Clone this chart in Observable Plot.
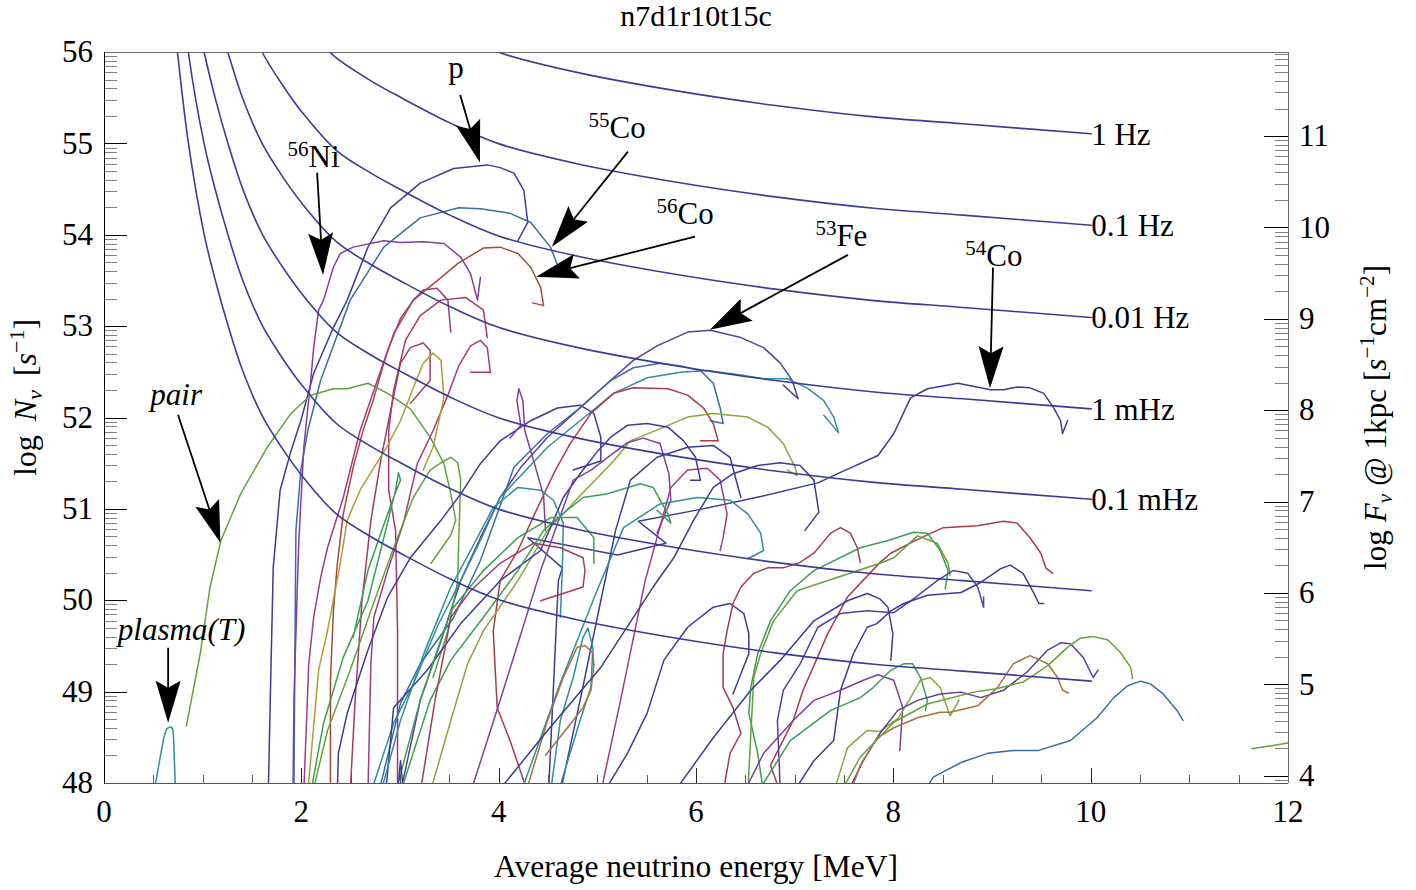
<!DOCTYPE html>
<html><head><meta charset="utf-8">
<script src="https://cdn.jsdelivr.net/npm/d3@7"></script>
<script src="https://cdn.jsdelivr.net/npm/@observablehq/plot@0.6"></script>
<style>html,body{margin:0;padding:0;background:#fff}</style>
</head><body><div id="chart"></div>
<script>
const FONT = "'Liberation Serif','Times New Roman',serif";
const FS = 31;

// ---------- axes ----------
const xDomain = [0, 12];
const yDomain = [48, 56];
const xMajorTicks = [0, 2, 4, 6, 8, 10, 12];
const xMinorTicks = [0.5, 1, 1.5, 2.5, 3, 3.5, 4.5, 5, 5.5, 6.5, 7, 7.5, 8.5, 9, 9.5, 10.5, 11, 11.5];
const yMajorTicks = [48, 49, 50, 51, 52, 53, 54, 55, 56];
const fluxMajorTicks = [4, 5, 6, 7, 8, 9, 10, 11];
const fluxOffset = 44.08; // log(4 pi (1 kpc)^2)

// ---------- iso-rate curves ----------
const isoLabels = ["1 Hz", "0.1 Hz", "0.01 Hz", "1 mHz", "0.1 mHz", "", ""];
const isoEndN = [55.11, 54.11, 53.10, 52.10, 51.11, 50.11, 49.12];
const iso1Hz = [[3.5,56.23],[4.0,56.0],[4.8,55.78],[5.8,55.58],[6.8,55.42],[7.8,55.295],[8.7,55.22],[10,55.11]];
const iso01Hz = [[2.2,56.1],[2.35,55.94],[2.7,55.69],[3.0,55.51],[3.5,55.23],[4.0,55.0],[4.8,54.78],[5.8,54.58],[6.8,54.42],[7.8,54.295],[8.7,54.22],[10,54.11]];
const iso001Hz = [[1.5,56.25],[1.6,56.0],[1.8,55.65],[2.0,55.35],[2.35,54.93],[2.7,54.68],[3.0,54.5],[3.5,54.22],[4.0,53.99],[4.8,53.77],[5.8,53.57],[6.8,53.41],[7.8,53.285],[8.7,53.21],[10,53.1]];
const iso1mHz = [[1.2,56.15],[1.25,56.0],[1.4,55.5],[1.6,55.0],[1.8,54.65],[2.0,54.35],[2.35,53.93],[2.7,53.68],[3.0,53.5],[3.5,53.22],[4.0,52.99],[4.8,52.77],[5.8,52.57],[6.8,52.41],[7.8,52.285],[8.7,52.21],[10,52.1]];
const iso01mHz = [[0.98,56.15],[1.01,56.0],[1.125,55.49],[1.25,55.01],[1.4,54.51],[1.6,54.01],[1.8,53.66],[2.0,53.36],[2.35,52.94],[2.7,52.69],[3.0,52.51],[3.5,52.23],[4.0,52.0],[4.8,51.78],[5.8,51.58],[6.8,51.42],[7.8,51.295],[8.7,51.22],[10,51.11]];
const iso001mHz = [[0.83,56.2],[0.85,56.0],[1.01,55.0],[1.125,54.49],[1.25,54.01],[1.4,53.51],[1.6,53.01],[1.8,52.66],[2.0,52.36],[2.35,51.94],[2.7,51.69],[3.0,51.51],[3.5,51.23],[4.0,51.0],[4.8,50.78],[5.8,50.58],[6.8,50.42],[7.8,50.295],[8.7,50.22],[10,50.11]];
const iso0001mHz = [[0.72,56.2],[0.74,56.0],[0.85,55.01],[1.01,54.01],[1.125,53.5],[1.25,53.02],[1.4,52.52],[1.6,52.02],[1.8,51.67],[2.0,51.37],[2.35,50.95],[2.7,50.7],[3.0,50.52],[3.5,50.24],[4.0,50.01],[4.8,49.79],[5.8,49.59],[6.8,49.43],[7.8,49.305],[8.7,49.23],[10,49.12]];
const isoCurves = [iso1Hz, iso01Hz, iso001Hz, iso1mHz, iso01mHz, iso001mHz, iso0001mHz];

// ---------- spectra (E [MeV], log N) ----------
const pSpec = [[1.66,47.9],[1.68,48.91],[1.71,50.36],[1.78,51.21],[1.89,51.64],[1.99,51.97],[2.12,52.49],[2.32,52.99],[2.46,53.29],[2.67,53.87],[2.90,54.30],[3.20,54.57],[3.54,54.73],[3.88,54.77],[4.01,54.74],[4.15,54.68],[4.25,54.49],[4.29,54.14],[4.19,53.94]];
const co55 = [[1.92,47.9],[1.93,49.46],[1.94,50.77],[1.99,51.43],[2.06,51.86],[2.19,52.41],[2.49,53.29],[2.83,53.87],[3.20,54.19],[3.59,54.30],[3.81,54.29],[4.11,54.24],[4.32,54.14],[4.52,53.87],[4.60,53.65]];
const ni56 = [[1.91,47.9],[1.92,48.91],[1.95,50.0],[1.97,50.66],[2.02,51.68],[2.09,52.41],[2.12,52.77],[2.17,53.18],[2.22,53.29],[2.32,53.65],[2.39,53.80],[2.52,53.87],[2.83,53.94],[3.0,53.92],[3.23,53.93],[3.44,53.91],[3.61,53.76],[3.71,53.58],[3.78,53.29],[3.81,53.54]];
const co56 = [[2.29,47.9],[2.29,49.13],[2.32,49.89],[2.36,50.41],[2.42,50.95],[2.52,51.46],[2.62,51.86],[2.73,52.22],[2.83,52.60],[2.93,52.92],[3.13,53.29],[3.37,53.50],[3.58,53.69],[3.84,53.86],[4.01,53.87],[4.19,53.80],[4.32,53.65],[4.42,53.43],[4.45,53.23],[4.34,53.26]];
const fe53 = [[3.0,47.9],[3.20,48.91],[3.41,49.56],[3.61,50.22],[3.81,50.69],[4.01,51.13],[4.22,51.46],[4.49,51.79],[4.90,52.19],[5.16,52.44],[5.36,52.63],[5.60,52.79],[5.91,52.94],[6.14,52.96],[6.45,52.88],[6.68,52.77],[6.85,52.60],[6.97,52.41],[7.03,52.21],[6.88,52.36]];
const co54 = [[4.50,47.9],[4.55,49.05],[4.60,50.22],[4.64,50.36],[4.29,50.69],[5.20,50.50],[5.69,50.63],[5.41,50.87],[6.04,51.0],[6.65,51.14],[7.23,51.29],[7.51,51.43],[7.84,51.59],[8.0,51.83],[8.17,52.22],[8.34,52.32],[8.65,52.38],[8.98,52.31],[9.11,52.31],[9.25,52.34],[9.38,52.33],[9.52,52.27],[9.62,52.11],[9.69,51.97],[9.71,51.83],[9.76,51.97]];
const pairSpec = [[0.83,48.63],[0.97,49.42],[1.07,50.15],[1.18,50.66],[1.38,51.17],[1.65,51.68],[1.89,52.05],[2.09,52.25],[2.32,52.32],[2.46,52.32],[2.67,52.38],[2.87,52.27],[3.10,52.10],[3.30,51.79],[3.44,51.50],[3.51,51.17],[3.56,50.88],[3.51,50.72],[3.31,50.41]];
const plasmaSpec = [[0.50,47.9],[0.60,48.50],[0.63,48.60],[0.67,48.62],[0.69,48.60],[0.70,48.50],[0.72,47.9]];
const edgeSpec = [[11.63,48.38],[12.04,48.45]];
const m1 = [[2.02,47.9],[2.07,49.31],[2.12,49.82],[2.19,50.25],[2.26,50.58],[2.42,51.13],[2.59,51.86],[2.73,52.30],[2.87,52.74],[3.0,53.09],[3.13,53.29],[3.23,53.40],[3.37,53.42],[3.48,53.29],[3.51,52.94]];
const m2 = [[2.97,47.9],[2.97,49.67],[2.95,50.77],[2.88,51.21],[2.88,51.86],[2.93,52.30],[3.05,52.85],[3.20,53.12],[3.41,53.29],[3.66,53.32],[3.84,53.18],[3.88,52.88]];
const m3 = [[2.67,47.9],[2.70,49.31],[2.73,49.82],[2.87,50.33],[3.03,50.85],[3.17,51.50],[3.33,51.86],[3.48,52.25],[3.59,52.57],[3.71,52.79],[3.81,52.85],[3.88,52.77],[3.91,52.50],[3.71,52.50]];
const mb = [[2.49,47.9],[2.54,48.91],[2.61,50.0],[2.70,50.88],[2.80,51.54],[2.90,52.08],[3.0,52.60],[3.10,52.77],[3.23,52.82],[3.30,52.74],[3.30,52.41],[3.10,52.16]];
const olive1 = [[2.06,47.9],[2.17,49.24],[2.26,49.67],[2.39,50.41],[2.46,50.88],[2.59,51.21],[2.87,51.70],[3.0,51.97],[3.13,52.33],[3.23,52.60],[3.33,52.71],[3.41,52.63],[3.44,52.22],[3.33,51.68],[3.23,51.43]];
const g1 = [[2.09,47.9],[2.22,48.66],[2.42,49.38],[2.67,50.0],[2.85,50.77],[2.95,51.21],[2.98,51.40],[3.0,51.32],[2.93,51.13],[2.80,50.74],[2.67,50.33],[2.52,49.60]];
const g2 = [[2.11,47.9],[2.26,48.58],[2.49,49.24],[2.70,49.89],[2.93,50.58],[3.13,51.13],[3.30,51.43],[3.41,51.51],[3.51,51.57],[3.58,51.51],[3.61,51.32],[3.59,50.66],[3.58,50.22],[3.48,49.67],[3.33,49.16]];
const n1 = [[2.36,47.9],[2.37,48.33],[2.46,48.77],[2.67,49.46],[2.87,50.04],[3.10,50.47],[3.41,50.88],[3.61,51.17],[3.81,51.50],[4.01,51.75],[4.32,51.97],[4.59,52.11],[4.82,52.14],[4.96,52.05],[5.03,51.79],[5.03,51.53],[4.75,51.43]];
const p5 = [[4.11,51.78],[4.22,51.92],[4.18,52.19],[4.20,52.32],[4.24,52.19],[4.26,51.86],[4.35,51.53],[4.45,51.15],[4.47,50.77]];
const t1 = [[2.70,47.9],[2.93,48.66],[3.13,49.09],[3.37,49.71],[3.61,50.22],[3.81,50.66],[4.01,51.13],[4.49,51.68],[4.82,51.97],[5.16,52.27],[5.50,52.44],[5.84,52.50],[6.11,52.52],[6.45,52.47],[6.68,52.43],[6.92,52.43],[7.12,52.33],[7.29,52.19],[7.39,52.01],[7.44,51.84],[7.29,52.03]];
const sb1 = [[2.78,47.9],[3.0,48.88],[3.20,49.31],[3.54,49.82],[3.81,50.44],[4.15,51.46],[4.49,51.83],[4.82,52.11],[5.13,52.41],[5.36,52.55],[5.63,52.60],[5.84,52.57],[6.04,52.52],[6.17,52.38],[6.24,52.11],[6.27,51.94],[6.14,51.97]];
const r3 = [[4.29,47.9],[4.11,48.47],[3.98,48.83],[3.94,49.67],[4.01,50.22],[4.19,50.55],[4.39,51.02],[4.57,51.43],[4.72,51.72],[4.93,52.05],[5.16,52.27],[5.36,52.33],[5.71,52.32],[5.91,52.25],[6.07,52.11],[6.17,51.94],[6.22,51.75],[6.04,51.75]];
const l1 = [[3.30,47.9],[3.51,48.69],[3.68,49.31],[3.84,49.67],[4.19,50.22],[4.49,50.77],[4.82,51.15],[5.16,51.53],[5.33,51.75],[5.67,51.90],[5.91,52.01],[6.17,52.05],[6.52,52.01],[6.72,51.90],[6.88,51.72],[7.0,51.46],[7.02,51.37],[6.92,51.43]];
const n2 = [[2.85,47.9],[2.93,48.83],[3.27,49.24],[3.61,49.75],[4.01,50.22],[4.42,50.55],[4.65,51.13],[4.82,51.39],[5.0,51.64],[5.13,51.79],[5.30,51.92],[5.50,51.94],[5.71,51.90],[5.87,51.75],[5.99,51.57],[6.04,51.32],[5.94,51.32]];
const p6 = [[3.71,47.9],[4.01,48.91],[4.42,50.33],[4.75,51.32],[4.93,51.43],[5.10,51.57],[5.30,51.73],[5.46,51.78],[5.63,51.72],[5.72,51.39],[5.74,51.10],[5.60,50.74]];
const n3 = [[4.62,47.9],[4.82,48.91],[5.03,50.0],[5.18,50.77],[5.33,51.32],[5.60,51.57],[5.91,51.68],[6.17,51.70],[6.34,51.57],[6.45,51.13]];
const p7 = [[5.03,47.9],[5.23,48.91],[5.48,50.22],[5.74,51.24],[5.91,51.43],[6.11,51.45],[6.24,51.32],[6.31,50.95],[6.27,50.69],[6.24,50.55]];
const t2 = [[4.22,47.9],[4.62,49.10],[4.98,50.08],[5.26,50.80],[5.63,51.06],[6.01,51.13],[6.34,51.10],[6.52,50.95],[6.65,50.74],[6.68,50.55],[6.52,50.46]];
const g3 = [[3.0,47.9],[3.30,48.91],[3.51,49.35],[3.84,49.82],[4.19,50.33],[4.45,50.77],[4.69,50.99],[4.85,51.13],[5.10,51.17],[5.43,51.28],[5.56,51.24],[5.71,50.95],[5.74,50.85],[5.60,50.99]];
const t3 = [[2.80,47.9],[3.0,48.69],[3.25,49.46],[3.51,50.15],[3.71,50.55],[3.94,51.02],[4.19,51.24],[4.42,51.21],[4.55,51.10],[4.65,50.85],[4.64,50.33],[4.62,49.82]];
const g4 = [[2.95,47.9],[3.20,48.91],[3.51,49.89],[3.84,50.33],[4.19,50.69],[4.39,50.82],[4.52,50.91],[4.79,50.91],[4.96,50.69],[4.96,50.41]];
const r4 = [[3.20,47.9],[3.35,48.91],[3.51,49.82],[3.71,50.11],[4.01,50.41],[4.35,50.63],[4.62,50.58],[4.85,50.47],[4.87,50.33],[4.85,50.15],[4.42,50.0]];
const tp = [[4.52,47.9],[4.62,48.69],[4.75,49.16],[4.85,49.60],[4.90,49.70],[4.95,49.49],[4.93,49.05],[4.82,48.69],[4.62,47.98]];
const bl = [[4.27,47.9],[4.49,48.69],[4.65,49.16],[4.79,49.49],[4.87,49.51],[4.95,49.43],[4.96,49.29],[4.93,49.02],[4.85,48.83],[4.67,48.58],[4.47,48.31]];
const n4 = [[5.06,47.9],[5.30,48.33],[5.50,48.77],[5.67,49.35],[5.91,49.71],[6.17,49.93],[6.34,49.97],[6.48,49.86],[6.53,49.64],[6.53,49.42],[6.37,48.98]];
const n5 = [[3.98,47.9],[4.49,48.58],[5.03,49.27],[5.56,50.15],[5.77,50.47],[5.97,50.88],[6.17,51.24],[6.37,51.39],[6.62,51.48],[6.85,51.51],[7.05,51.48],[7.19,51.32],[7.24,50.97],[7.10,50.77]];
const r5 = [[6.27,47.9],[6.34,48.33],[6.45,48.55],[6.37,48.83],[6.27,49.05],[6.27,49.42],[6.31,49.67],[6.37,49.97],[6.45,50.15],[6.58,50.30],[6.72,50.36],[6.88,50.36],[7.05,50.42],[7.19,50.52],[7.36,50.74],[7.46,50.80],[7.56,50.74],[7.63,50.58],[7.66,50.42]];
const r1 = [[6.85,47.9],[6.75,48.20],[6.98,48.69],[7.08,49.02],[7.19,49.29],[7.33,49.64],[7.53,50.04],[7.86,50.42],[7.97,50.52],[8.20,50.65],[8.50,50.80],[8.85,50.82],[9.11,50.87],[9.25,50.85],[9.38,50.69],[9.49,50.52],[9.54,50.36],[9.61,50.30]];
const gr1 = [[6.68,47.9],[6.62,48.33],[6.53,48.77],[6.55,49.05],[6.62,49.42],[6.75,49.78],[6.95,50.11],[7.19,50.33],[7.66,50.58],[7.94,50.66],[8.20,50.75],[8.34,50.74],[8.47,50.55],[8.55,50.33],[8.52,50.13]];
const gr2 = [[6.52,47.9],[6.58,49.16],[6.65,49.42],[6.78,49.78],[7.02,50.11],[7.86,50.41],[8.0,50.47],[8.24,50.71],[8.44,50.63],[8.55,50.41],[8.57,50.28]];
const nr1 = [[5.77,47.9],[6.17,48.50],[6.55,49.02],[6.85,49.35],[7.19,49.78],[7.53,50.0],[7.73,50.08],[7.86,50.02],[7.94,49.93],[7.99,49.64],[7.97,49.35]];
const ir1 = [[6.85,47.9],[6.82,48.69],[6.88,49.02],[7.05,49.31],[7.23,49.71],[7.46,49.86],[7.73,49.89],[8.0,49.87],[8.20,50.02],[8.44,50.22],[8.60,50.33],[8.75,50.30],[8.85,50.15],[8.91,49.93],[8.91,50.04]];
const nr2 = [[6.98,47.9],[7.19,48.25],[7.39,48.47],[7.46,49.02],[7.59,49.42],[7.73,49.71],[7.83,49.75],[7.97,49.89],[8.10,49.97],[8.34,50.06],[8.68,50.09],[8.88,50.20],[9.08,50.35],[9.18,50.39],[9.31,50.30],[9.42,50.08],[9.47,49.97],[9.52,49.97]];
const pr1 = [[6.48,47.9],[6.68,48.33],[6.98,48.69],[7.19,48.91],[7.46,49.02],[7.69,49.13],[7.84,49.19],[8.0,49.13],[8.09,48.83],[8.06,48.36]];
const gr3 = [[6.62,47.9],[6.95,48.47],[7.36,48.80],[7.66,48.94],[7.79,49.05],[7.97,49.24],[8.10,49.31],[8.19,49.31],[8.27,49.16],[8.34,48.91],[8.32,48.80]];
const yg1 = [[7.39,47.9],[7.53,48.39],[7.73,48.58],[7.86,48.57],[8.04,48.71],[8.17,48.94],[8.27,49.13],[8.37,49.16],[8.47,49.05],[8.54,48.83],[8.57,48.74],[8.66,48.91]];
const pr2 = [[7.53,47.9],[7.69,48.25],[7.86,48.55],[8.04,48.80],[8.24,48.91],[8.47,48.98],[8.68,49.0],[8.88,48.94],[9.11,49.02],[9.35,49.22],[9.56,49.46],[9.69,49.54],[9.79,49.53],[9.92,49.38],[10.02,49.16],[10.07,49.24]];
const br1 = [[7.56,47.9],[7.66,48.20],[7.83,48.50],[8.0,48.61],[8.24,48.72],[8.47,48.78],[8.57,48.78],[8.85,48.85],[9.05,49.05],[9.21,49.31],[9.38,49.40],[9.56,49.31],[9.66,49.16],[9.71,49.02],[9.77,48.99]];
const gr4 = [[7.46,47.9],[7.66,48.29],[8.0,48.67],[8.34,48.87],[8.81,49.0],[9.05,49.04],[9.31,49.11],[9.56,49.29],[9.76,49.49],[9.89,49.59],[10.02,49.61],[10.17,49.57],[10.30,49.43],[10.40,49.27],[10.42,49.15]];
const sb2 = [[8.30,47.9],[8.40,48.07],[8.68,48.23],[8.95,48.33],[9.21,48.36],[9.46,48.36],[9.79,48.47],[10.06,48.72],[10.23,48.94],[10.37,49.07],[10.50,49.12],[10.60,49.09],[10.73,48.98],[10.87,48.80],[10.93,48.69]];
const spike1 = [[2.97,47.9],[3.0,48.25],[3.03,47.9]];

const NAVY = "#3b3b9b", STEEL = "#3b6ca8", TEAL = "#2f8f9c", GREEN = "#3b9e52", LIME = "#62a23a",
      YGREEN = "#8aa63a", OLIVE = "#ad9d32", BROWN = "#a8703a", RED = "#a73c4a", BRICK = "#a9473a",
      MAGENTA = "#a33a84", ROSE = "#a63a62", PURPLE = "#833da3", INDIGO = "#5b3d9e";

const spectra = [
  [pSpec, NAVY], [co55, STEEL], [ni56, PURPLE], [co56, BRICK], [fe53, INDIGO], [co54, NAVY],
  [pairSpec, LIME], [plasmaSpec, TEAL], [edgeSpec, LIME],
  [m1, MAGENTA], [m2, ROSE], [m3, MAGENTA], [mb, ROSE], [olive1, OLIVE], [g1, GREEN], [g2, LIME],
  [n1, NAVY], [p5, PURPLE], [t1, TEAL], [sb1, STEEL], [r3, RED], [l1, YGREEN], [n2, NAVY],
  [p6, PURPLE], [n3, NAVY], [p7, MAGENTA], [t2, TEAL], [g3, GREEN], [t3, TEAL], [g4, GREEN],
  [r4, ROSE], [tp, TEAL], [bl, BROWN], [n4, NAVY], [n5, NAVY], [r5, RED], [r1, RED], [gr1, GREEN],
  [gr2, LIME], [nr1, NAVY], [ir1, INDIGO], [nr2, NAVY], [pr1, PURPLE], [gr3, GREEN], [yg1, YGREEN],
  [pr2, INDIGO], [br1, BROWN], [gr4, LIME], [sb2, STEEL], [spike1, NAVY]
];

// ---------- annotations ----------
const annLabel  = ["p", "Ni", "Co", "Co", "Fe", "Co", "pair", "plasma(T)"];
const annMass   = ["", "56", "55", "56", "53", "54", "", ""];
const annItalic = [false, false, false, false, false, false, true, true];
const annTextE  = [3.49, 1.86, 4.91, 5.60, 7.21, 8.73, 0.47, 0.14];
const annTextN  = [55.72, 54.74, 55.06, 54.12, 53.88, 53.66, 52.14, 49.56];
const annTailE  = [3.61, 2.16, 5.31, 5.99, 7.54, 9.01, 0.75, 0.65];
const annTailN  = [55.53, 54.68, 54.91, 53.98, 53.78, 53.64, 52.03, 49.48];
const annTipE   = [3.81, 2.22, 4.54, 4.38, 6.14, 8.98, 1.18, 0.65];
const annTipN   = [54.79, 53.56, 53.87, 53.54, 52.96, 52.32, 50.63, 48.66];

const titleText = "n7d1r10t15c";
const xTitle = "Average neutrino energy [MeV]";

function frameMark(index, scales, values, dims) {
  const {x, y} = scales;
  const L = dims.marginLeft, R = dims.width - dims.marginRight;
  const T = dims.marginTop, B = dims.height - dims.marginBottom;
  const g = d3.create("svg:g").attr("font-family", FONT).attr("fill", "black");
  const ln = (x1, y1, x2, y2, c, w = 1) => g.append("line").attr("x1", x1).attr("y1", y1).attr("x2", x2).attr("y2", y2).attr("stroke", c).attr("stroke-width", w);
  const ly = v => Math.round(y(v)) + 0.5;
  for (let n = yDomain[0]; n < yDomain[1]; n++)
    for (let k = 2; k <= 9; k++) ln(L, ly(n + Math.log10(k)), L + 13, ly(n + Math.log10(k)), "#808080");
  for (const v of yMajorTicks) ln(L, ly(v), L + 23, ly(v), "#000");
  for (let f = fluxMajorTicks[0] - 1; f <= fluxMajorTicks[fluxMajorTicks.length - 1]; f++)
    for (let k = 2; k <= 9; k++) {
      const v = f + Math.log10(k) + fluxOffset;
      if (v >= yDomain[0] && v <= yDomain[1]) ln(R - 13, ly(v), R, ly(v), "#808080");
    }
  for (const f of fluxMajorTicks) ln(R - 24, ly(f + fluxOffset), R, ly(f + fluxOffset), "#000");
  for (const v of xMinorTicks) ln(Math.round(x(v)) + 0.5, B, Math.round(x(v)) + 0.5, B - 8, "#555");
  for (const v of xMajorTicks) ln(Math.round(x(v)) + 0.5, B, Math.round(x(v)) + 0.5, B - 15, "#222");
  ln(L, T + 0.5, R, T + 0.5, "#6a6a6a");
  ln(R + 0.5, T, R + 0.5, B, "#6a6a6a");
  ln(L, B + 0.5, R, B + 0.5, "#555");
  ln(L + 0.5, T, L + 0.5, B + 1, "#000");
  for (const v of yMajorTicks)
    g.append("text").attr("x", L - 11).attr("y", y(v)).attr("dy", "0.33em").attr("text-anchor", "end").attr("font-size", FS).text(v);
  for (const v of xMajorTicks)
    g.append("text").attr("x", x(v)).attr("y", B + 39).attr("text-anchor", "middle").attr("font-size", FS).text(v);
  for (const f of fluxMajorTicks)
    g.append("text").attr("x", R + 11).attr("y", y(f + fluxOffset)).attr("dy", "0.33em").attr("text-anchor", "start").attr("font-size", FS).text(f);
  g.append("text").attr("x", (L + R) / 2).attr("y", 26).attr("text-anchor", "middle").attr("font-size", 30).text(titleText);
  g.append("text").attr("x", (L + R) / 2).attr("y", 877).attr("text-anchor", "middle").attr("font-size", 31.5).text(xTitle);
  const yl = g.append("text").attr("transform", `translate(36,${(T + B) / 2 - 20}) rotate(-90)`).attr("text-anchor", "middle").attr("font-size", 32);
  yl.append("tspan").text("log");
  yl.append("tspan").attr("dx", 14).attr("font-style", "italic").text("N");
  yl.append("tspan").attr("font-style", "italic").attr("font-size", 22).attr("dy", 6).text("ν");
  yl.append("tspan").attr("dx", 14).attr("dy", -6).text("[");
  yl.append("tspan").attr("font-style", "italic").text("s");
  yl.append("tspan").attr("font-size", 22).attr("dy", -12).text("−1");
  yl.append("tspan").attr("dy", 12).text("]");
  const yr = g.append("text").attr("transform", `translate(1386,${(T + B) / 2}) rotate(-90)`).attr("text-anchor", "middle").attr("font-size", FS)
    .attr("textLength", 305).attr("lengthAdjust", "spacing");
  yr.append("tspan").text("log ");
  yr.append("tspan").attr("font-style", "italic").text("F");
  yr.append("tspan").attr("font-style", "italic").attr("font-size", 21).attr("dy", 6).text("ν");
  yr.append("tspan").attr("dy", -6).text(" @ 1kpc [");
  yr.append("tspan").attr("font-style", "italic").text("s");
  yr.append("tspan").attr("font-size", 21).attr("dy", -12).text("−1");
  yr.append("tspan").attr("dy", 12).text("cm");
  yr.append("tspan").attr("font-size", 21).attr("dy", -12).text("−2");
  yr.append("tspan").attr("dy", 12).text("]");
  return g.node();
}

function annotationMark(index, scales, values, dims) {
  const {x, y} = scales;
  const g = d3.create("svg:g").attr("font-family", FONT);
  for (let i = 0; i < annLabel.length; i++) {
    const x1 = x(annTailE[i]), y1 = y(annTailN[i]), x2 = x(annTipE[i]), y2 = y(annTipN[i]);
    const len = Math.hypot(x2 - x1, y2 - y1), ux = (x2 - x1) / len, uy = (y2 - y1) / len;
    const hl = 42, hw = 12.5, notch = 7;
    const bx = x2 - ux * hl, by = y2 - uy * hl;
    g.append("line").attr("x1", x1).attr("y1", y1).attr("x2", bx + ux * notch).attr("y2", by + uy * notch)
      .attr("stroke", "black").attr("stroke-width", 1.8);
    const pts = [[x2, y2], [bx - uy * hw, by + ux * hw], [bx + ux * notch, by + uy * notch], [bx + uy * hw, by - ux * hw]];
    g.append("path").attr("d", "M" + pts.map(p => p.join(",")).join("L") + "Z").attr("fill", "black");
    const t = g.append("text").attr("x", x(annTextE[i])).attr("y", y(annTextN[i])).attr("font-size", FS)
      .attr("text-anchor", "start").attr("fill", "black");
    if (annItalic[i]) t.attr("font-style", "italic");
    if (annMass[i]) {
      t.append("tspan").attr("font-size", 21).attr("dy", -11).text(annMass[i]);
      t.append("tspan").attr("dy", 11).text(annLabel[i]);
    } else t.text(annLabel[i]);
  }
  return g.node();
}

const freqRows = isoLabels.map((label, i) => ({label, e: 10, n: isoEndN[i]})).filter(d => d.label);

const chart = Plot.plot({
  width: 1416, height: 890,
  marginLeft: 104, marginRight: 128, marginTop: 52, marginBottom: 107,
  x: {domain: xDomain, axis: null},
  y: {domain: yDomain, axis: null},
  style: {fontFamily: FONT, background: "white", overflow: "visible"},
  marks: [
    ...spectra.map(([pts, c]) => Plot.line(pts, {x: d => d[0], y: d => d[1], stroke: c, strokeWidth: 1.5, clip: true})),
    ...isoCurves.map(pts => Plot.line(pts, {x: d => d[0], y: d => d[1], stroke: NAVY, strokeWidth: 1.6, curve: "catmull-rom", clip: true})),
    Plot.text(freqRows, {x: "e", y: "n", text: "label", textAnchor: "start", dx: 0, dy: 1, fontSize: FS, fill: "black"}),
    frameMark,
    annotationMark
  ]
});
document.getElementById("chart").appendChild(chart);
</script></body></html>
